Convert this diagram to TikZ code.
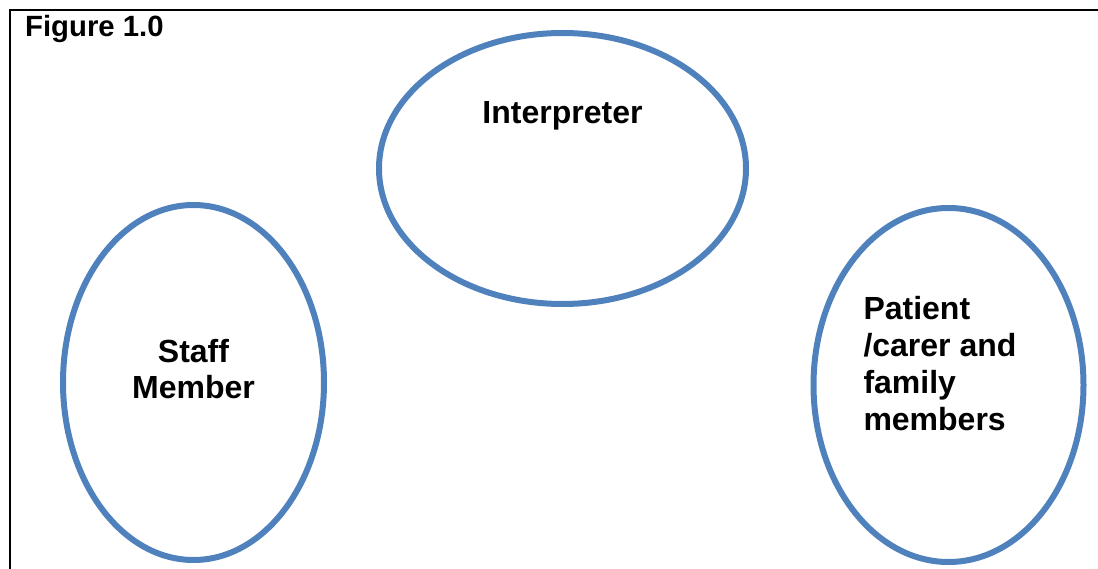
\documentclass[tikz,border=0pt]{standalone}
\usepackage{fontspec}
\setmainfont{Liberation Sans}
\usetikzlibrary{shapes.geometric}
\definecolor{ovalblue}{HTML}{4F81BD}
\begin{document}
\begin{tikzpicture}[x=1pt,y=-1pt,
  oval/.style={ellipse, draw=ovalblue, line width=6pt, inner sep=0pt, outer sep=0pt},
  lbl/.style={inner sep=0pt, outer sep=0pt, font=\bfseries\fontsize{32}{36.8}\selectfont},
  frameline/.style={line width=2pt, black}]
\useasboundingbox (0,0) rectangle (1098,569);
\coordinate (ftop) at (1098,10);
\coordinate (fcorner) at (10,10);
\coordinate (fbot) at (10,569);
\draw[frameline] (ftop) -- (fcorner) -- (fbot);
\node[inner sep=0pt, anchor=base west, font=\bfseries\fontsize{29.3}{33}\selectfont] (fig) at (25,37) {Figure 1.0};
\node[oval, minimum width=367pt, minimum height=271pt] (interp) at (562.5,168.5) {};
\node[oval, minimum width=261pt, minimum height=355pt] (staff) at (193.5,382.5) {};
\node[oval, minimum width=270pt, minimum height=354pt] (patient) at (948.5,385) {};
\node[lbl, anchor=base] (tinterp) at (562.5,124) {Interpreter};
\node[lbl, anchor=base, align=center] (tstaff) at (193.5,399) {Staff\\Member};
\node[lbl, anchor=base west, align=left] (tpatient) at (863.5,430) {Patient\\/carer and\\family\\members};
\end{tikzpicture}
\end{document}
